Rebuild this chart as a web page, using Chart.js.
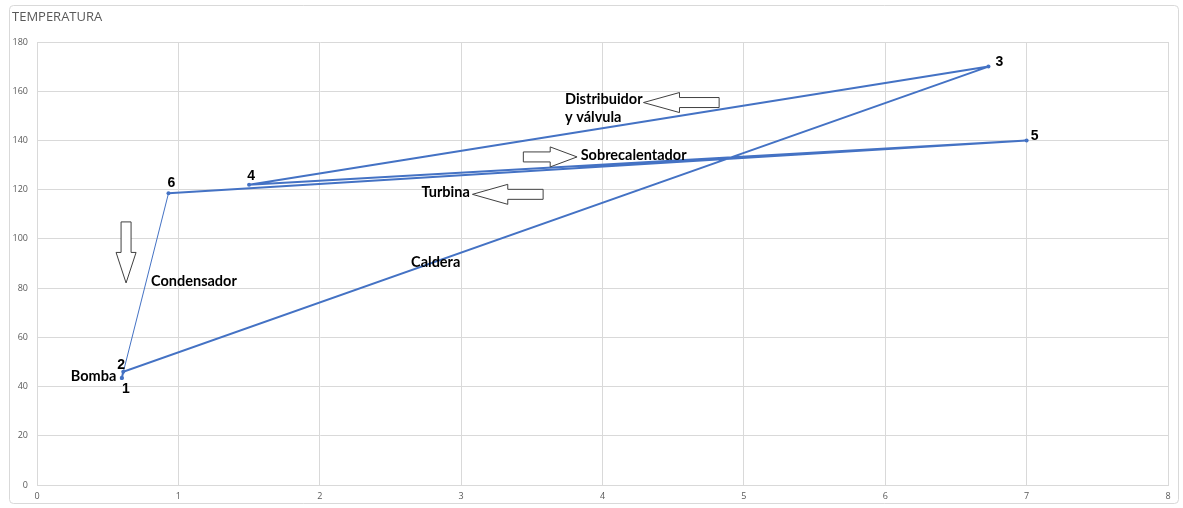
<!doctype html>
<html lang="es">
<head>
<meta charset="utf-8">
<title>Temperatura</title>
<script src="https://cdn.jsdelivr.net/npm/chart.js@4.4.1/dist/chart.umd.min.js"></script>
<style>
  html, body { margin: 0; padding: 0; background: #fff; }
  #wrap { position: relative; width: 1183px; height: 508px; }
</style>
</head>
<body>
<div id="wrap"><canvas id="tempChart"></canvas></div>
<script>
// ciclo: puntos en orden de recorrido, se cierra volviendo al 1
var pointNames = ['1', '2', '3', '4', '5', '6', '1'];
var xValues = [0.60, 0.61, 6.73, 1.50, 7.00, 0.93, 0.60];
var yValues = [43.5, 46, 170, 122, 140, 118.5, 43.5];
var xTicks = [0, 1, 2, 3, 4, 5, 6, 7, 8];
var yTicks = [0, 20, 40, 60, 80, 100, 120, 140, 160, 180];

// etiquetas de cada etapa (posicion en unidades del grafico)
var stageNames = ['Bomba', 'Condensador', 'Caldera', 'Turbina', 'Sobrecalentador', 'Distribuidor', 'y válvula'];
var stageX = [0.40, 1.11, 2.82, 2.89, 4.22, 3.735, 3.735];
var stageY = [44.3, 82.9, 90.6, 119.1, 134.1, 156.8, 149.5];
var stageAlign = ['center', 'center', 'center', 'center', 'center', 'left', 'left'];

// flechas: punta y cola en unidades del grafico
var arrowTipX = [0.63, 4.29, 3.82, 3.08];
var arrowTipY = [82.1, 155.4, 133.3, 118.1];
var arrowTailX = [0.63, 4.825, 3.44, 3.58];
var arrowTailY = [106.9, 155.4, 133.3, 118.1];

// desplazamiento de los numeros respecto a cada punto (px)
var numDx = [4, -2, 11, 2, 8, 3];
var numDy = [11, -7, -4, -9, -4, -10];

var points = xValues.map(function (x, i) { return { x: x, y: yValues[i] }; });

var frame = {
  id: 'frame',
  beforeDraw: function (chart) {
    var ctx = chart.ctx;
    ctx.save();
    ctx.fillStyle = '#fff';
    ctx.fillRect(0, 0, chart.width, chart.height);
    ctx.strokeStyle = '#d9d9d9';
    ctx.lineWidth = 1;
    ctx.beginPath();
    ctx.roundRect(9.5, 5.5, 1169, 498, 4);
    ctx.stroke();
    ctx.fillStyle = '#595959';
    ctx.font = '13px "Open Sans", sans-serif';
    ctx.textBaseline = 'middle';
    ctx.fillText('TEMPERATURA', 12, 17);
    ctx.restore();
  }
};

function blockArrow(ctx, tx, ty, ex, ey) {
  var len = Math.hypot(ex - tx, ey - ty);
  var ang = Math.atan2(ey - ty, ex - tx);
  var head = Math.min(36, len * 0.5);
  ctx.save();
  ctx.translate(tx, ty);
  ctx.rotate(ang);
  ctx.beginPath();
  ctx.moveTo(0, 0);
  ctx.lineTo(head, -10);
  ctx.lineTo(head, -5);
  ctx.lineTo(len, -5);
  ctx.lineTo(len, 5);
  ctx.lineTo(head, 5);
  ctx.lineTo(head, 10);
  ctx.closePath();
  ctx.fillStyle = '#fff';
  ctx.fill();
  ctx.strokeStyle = '#404040';
  ctx.lineWidth = 1;
  ctx.stroke();
  ctx.restore();
}

var notes = {
  id: 'notes',
  afterDatasetsDraw: function (chart) {
    var ctx = chart.ctx;
    var sx = chart.scales.x, sy = chart.scales.y;
    ctx.save();
    // flechas
    for (var a = 0; a < arrowTipX.length; a++) {
      blockArrow(ctx,
        sx.getPixelForValue(arrowTipX[a]), sy.getPixelForValue(arrowTipY[a]),
        sx.getPixelForValue(arrowTailX[a]), sy.getPixelForValue(arrowTailY[a]));
    }
    // nombres de las etapas
    ctx.fillStyle = '#000';
    ctx.font = 'bold 14.5px "Comic Sans MS", "Lato", sans-serif';
    ctx.textBaseline = 'middle';
    for (var s = 0; s < stageNames.length; s++) {
      ctx.textAlign = stageAlign[s];
      ctx.fillText(stageNames[s], sx.getPixelForValue(stageX[s]), sy.getPixelForValue(stageY[s]));
    }
    // numeros de los puntos
    var meta = chart.getDatasetMeta(0);
    ctx.font = 'bold 14px "Liberation Sans", Arial, sans-serif';
    ctx.textAlign = 'center';
    for (var i = 0; i < 6; i++) {
      var el = meta.data[i];
      ctx.fillText(pointNames[i], el.x + numDx[i], el.y + numDy[i]);
    }
    ctx.restore();
  }
};

new Chart(document.getElementById('tempChart'), {
  type: 'scatter',
  data: {
    datasets: [{
      data: points,
      showLine: true,
      borderColor: '#4472c4',
      backgroundColor: '#4472c4',
      borderWidth: 2,
      pointRadius: 2,
      pointBorderWidth: 0,
      tension: 0,
      // el tramo del condensador (6 -> 1) va mas fino
      segment: {
        borderWidth: function (c) { return c.p0DataIndex === 5 ? 1 : 2; }
      }
    }]
  },
  options: {
    responsive: true,
    maintainAspectRatio: false,
    animation: false,
    layout: { padding: { top: 42, right: 15, left: 0, bottom: 0 } },
    plugins: { legend: { display: false }, tooltip: { enabled: false } },
    scales: {
      x: {
        type: 'linear',
        min: 0, max: 8,
        afterBuildTicks: function (s) { s.ticks = xTicks.map(function (v) { return { value: v }; }); },
        afterFit: function (s) { s.height = 23; },
        grid: { color: '#d9d9d9', drawTicks: false },
        border: { color: '#d9d9d9' },
        ticks: { color: '#595959', font: { size: 9, family: '"Open Sans", sans-serif' }, padding: 6, maxRotation: 0 }
      },
      y: {
        type: 'linear',
        min: 0, max: 180,
        afterBuildTicks: function (s) { s.ticks = yTicks.map(function (v) { return { value: v }; }); },
        afterFit: function (s) { s.width = 37; },
        grid: { color: '#d9d9d9', drawTicks: false },
        border: { color: '#d9d9d9' },
        ticks: { color: '#595959', font: { size: 9, family: '"Open Sans", sans-serif' }, padding: 9 }
      }
    }
  },
  plugins: [frame, notes]
});
</script>
</body>
</html>
